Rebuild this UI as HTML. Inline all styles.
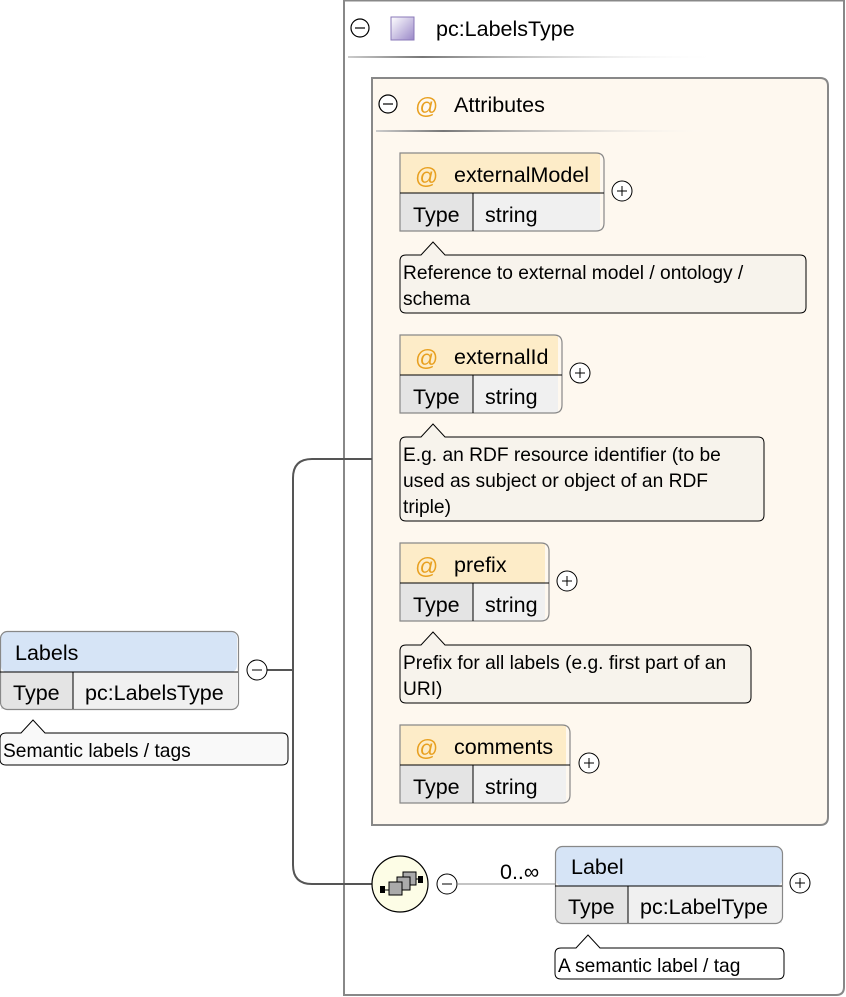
<!DOCTYPE html>
<html><head><meta charset="utf-8"><style>
html,body{margin:0;padding:0;background:#fff;}
svg{display:block;font-family:"Liberation Sans",Arial,sans-serif;}
.t{font-size:21.5px;fill:#000;}
.d{font-size:19.2px;fill:#000;}
.at{font-size:23px;fill:#e8a020;}
</style></head><body>
<svg width="846" height="997" viewBox="0 0 846 997" xmlns="http://www.w3.org/2000/svg">
<defs>
<linearGradient id="sep" x1="0" x2="1" y1="0" y2="0">
<stop offset="0" stop-color="#ccc"/><stop offset="0.2" stop-color="#777"/><stop offset="1" stop-color="#fff" stop-opacity="0"/>
</linearGradient>
<linearGradient id="pur" x1="0" y1="0" x2="1" y2="1">
<stop offset="0" stop-color="#fff"/><stop offset="1" stop-color="#9a88c8"/>
</linearGradient>
</defs>

<path d="M344,0.5 H844 V987 Q844,995 836,995 H344 Z" fill="#fff" stroke="#888" stroke-width="2"/>
<circle cx="360" cy="28" r="9" fill="#fff" stroke="#000" stroke-width="1.2"/>
<line x1="355" y1="28" x2="365" y2="28" stroke="#000" stroke-width="1.2"/>
<rect x="391" y="17" width="23" height="23" fill="url(#pur)" stroke="#8a78b8"/>
<text x="436" y="36" class="t">pc:LabelsType</text>
<rect x="348" y="56" width="372" height="2" fill="url(#sep)"/>

<path d="M372,78 H820 Q828,78 828,86 V817 Q828,825 820,825 H372 Z" fill="#fef8ef" stroke="#888" stroke-width="2"/>
<circle cx="388" cy="104" r="9" fill="#fff" stroke="#000" stroke-width="1.2"/>
<line x1="383" y1="104" x2="393" y2="104" stroke="#000" stroke-width="1.2"/>
<text x="415" y="114" class="at">@</text>
<text x="454" y="112" class="t">Attributes</text>
<rect x="376" y="130" width="336" height="2" fill="url(#sep)"/>

<g>
<rect x="400" y="153" width="200" height="40" fill="#fdecc8"/>
<rect x="400" y="193" width="73" height="38" fill="#e4e4e4"/>
<rect x="473" y="193" width="127" height="38" fill="#f0f0f0"/>
<path d="M400,153 H596 Q604,153 604,161 V223 Q604,231 596,231 H400 Z" fill="none" stroke="#888" stroke-width="1.2"/>
<line x1="400" y1="193" x2="604" y2="193" stroke="#000"/>
<line x1="473" y1="193" x2="473" y2="231" stroke="#000"/>
<text x="415" y="184" class="at">@</text>
<text x="454" y="182" class="t">externalModel</text>
<text x="413" y="222" class="t">Type</text>
<text x="485" y="222" class="t">string</text>
<circle cx="622" cy="191" r="10" fill="#fff" stroke="#000"/>
<path d="M617,191 H627 M622,186 V196" stroke="#000"/>
<path d="M406,255 H421 L433,242 L445,255 H800 Q806,255 806,261 V307 Q806,313 800,313 H406 Q400,313 400,307 V261 Q400,255 406,255 Z" fill="#f7f3ec" stroke="#000"/>
<text x="403" y="279" class="d">Reference to external model / ontology /</text>
<text x="403" y="305" class="d">schema</text>
</g>

<g>
<rect x="400" y="335" width="158" height="40" fill="#fdecc8"/>
<rect x="400" y="375" width="73" height="38" fill="#e4e4e4"/>
<rect x="473" y="375" width="85" height="38" fill="#f0f0f0"/>
<path d="M400,335 H554 Q562,335 562,343 V405 Q562,413 554,413 H400 Z" fill="none" stroke="#888" stroke-width="1.2"/>
<line x1="400" y1="375" x2="562" y2="375" stroke="#000"/>
<line x1="473" y1="375" x2="473" y2="413" stroke="#000"/>
<text x="415" y="366" class="at">@</text>
<text x="454" y="364" class="t">externalId</text>
<text x="413" y="404" class="t">Type</text>
<text x="485" y="404" class="t">string</text>
<circle cx="580" cy="373" r="10" fill="#fff" stroke="#000"/>
<path d="M575,373 H585 M580,368 V378" stroke="#000"/>
<path d="M406,437 H421 L433,424 L445,437 H758 Q764,437 764,443 V515 Q764,521 758,521 H406 Q400,521 400,515 V443 Q400,437 406,437 Z" fill="#f7f3ec" stroke="#000"/>
<text x="403" y="461" class="d">E.g. an RDF resource identifier (to be</text>
<text x="403" y="487" class="d">used as subject or object of an RDF</text>
<text x="403" y="513" class="d">triple)</text>
</g>

<g>
<rect x="400" y="543" width="145" height="40" fill="#fdecc8"/>
<rect x="400" y="583" width="73" height="38" fill="#e4e4e4"/>
<rect x="473" y="583" width="72" height="38" fill="#f0f0f0"/>
<path d="M400,543 H541 Q549,543 549,551 V613 Q549,621 541,621 H400 Z" fill="none" stroke="#888" stroke-width="1.2"/>
<line x1="400" y1="583" x2="549" y2="583" stroke="#000"/>
<line x1="473" y1="583" x2="473" y2="621" stroke="#000"/>
<text x="415" y="574" class="at">@</text>
<text x="454" y="572" class="t">prefix</text>
<text x="413" y="612" class="t">Type</text>
<text x="485" y="612" class="t">string</text>
<circle cx="567" cy="581" r="10" fill="#fff" stroke="#000"/>
<path d="M562,581 H572 M567,576 V586" stroke="#000"/>
<path d="M406,645 H421 L433,632 L445,645 H745 Q751,645 751,651 V697 Q751,703 745,703 H406 Q400,703 400,697 V651 Q400,645 406,645 Z" fill="#f7f3ec" stroke="#000"/>
<text x="403" y="669" class="d">Prefix for all labels (e.g. first part of an</text>
<text x="403" y="695" class="d">URI)</text>
</g>

<g>
<rect x="400" y="725" width="166" height="40" fill="#fdecc8"/>
<rect x="400" y="765" width="73" height="38" fill="#e4e4e4"/>
<rect x="473" y="765" width="93" height="38" fill="#f0f0f0"/>
<path d="M400,725 H562 Q570,725 570,733 V795 Q570,803 562,803 H400 Z" fill="none" stroke="#888" stroke-width="1.2"/>
<line x1="400" y1="765" x2="570" y2="765" stroke="#000"/>
<line x1="473" y1="765" x2="473" y2="803" stroke="#000"/>
<text x="415" y="756" class="at">@</text>
<text x="454" y="754" class="t">comments</text>
<text x="413" y="794" class="t">Type</text>
<text x="485" y="794" class="t">string</text>
<circle cx="589" cy="763" r="10" fill="#fff" stroke="#000"/>
<path d="M584,763 H594 M589,758 V768" stroke="#000"/>
</g>

<path d="M266,670 H293 M372,459 H312 Q293,459 293,478 V865 Q293,884 312,884 H372" fill="none" stroke="#555" stroke-width="2"/>

<g>
<rect x="1" y="632" width="236" height="40" rx="6" fill="#d6e4f6"/>
<rect x="1" y="672" width="72" height="37" fill="#e4e4e4"/>
<rect x="73" y="672" width="164" height="37" fill="#f0f0f0"/>
<rect x="0.5" y="631.5" width="238" height="78" rx="7" fill="none" stroke="#888" stroke-width="1.2"/>
<line x1="0" y1="672" x2="238" y2="672" stroke="#000"/>
<line x1="73" y1="672" x2="73" y2="709" stroke="#000"/>
<text x="15" y="660" class="t">Labels</text>
<text x="13" y="700" class="t">Type</text>
<text x="85" y="700" class="t">pc:LabelsType</text>
<circle cx="257" cy="670" r="10" fill="#fff" stroke="#000"/>
<line x1="252" y1="670" x2="262" y2="670" stroke="#000"/>
<path d="M6,733 H21 L33,720 L45,733 H282 Q288,733 288,739 V759 Q288,765 282,765 H6 Q0,765 0,759 V739 Q0,733 6,733 Z" fill="#f9f9f9" stroke="#000"/>
<text x="3" y="757" class="d">Semantic labels / tags</text>
</g>

<circle cx="400" cy="884" r="28" fill="#fdfde6" stroke="#000" stroke-width="1.2"/>
<rect x="380" y="886" width="5" height="7" fill="#000"/>
<rect x="418" y="876" width="5" height="7" fill="#000"/>
<line x1="384" y1="890" x2="390" y2="890" stroke="#000"/>
<line x1="410" y1="879" x2="419" y2="879" stroke="#000"/>
<rect x="403" y="872" width="13" height="13" fill="#aaa" stroke="#000"/>
<rect x="397" y="877" width="13" height="13" fill="#aaa" stroke="#000"/>
<rect x="389" y="882" width="13" height="13" fill="#aaa" stroke="#000"/>
<circle cx="447" cy="884" r="10" fill="#fff" stroke="#000"/>
<line x1="442" y1="884" x2="452" y2="884" stroke="#000"/>
<line x1="457" y1="884" x2="555" y2="884" stroke="#888"/>
<text x="500" y="879" class="t">0..∞</text>

<g>
<rect x="556" y="847" width="226" height="39" rx="6" fill="#d6e4f6"/>
<rect x="556" y="886" width="72" height="37" fill="#e4e4e4"/>
<rect x="628" y="886" width="154" height="37" fill="#f0f0f0"/>
<rect x="555.5" y="846.5" width="227" height="77" rx="7" fill="none" stroke="#888" stroke-width="1.2"/>
<line x1="555" y1="886" x2="782" y2="886" stroke="#000"/>
<line x1="628" y1="886" x2="628" y2="923" stroke="#000"/>
<text x="571" y="874" class="t">Label</text>
<text x="568" y="914" class="t">Type</text>
<text x="640" y="914" class="t">pc:LabelType</text>
<circle cx="800" cy="883" r="10" fill="#fff" stroke="#000"/>
<path d="M795,883 H805 M800,878 V888" stroke="#000"/>
<path d="M561,948 H576 L588,935 L600,948 H778 Q784,948 784,954 V973 Q784,979 778,979 H561 Q555,979 555,973 V954 Q555,948 561,948 Z" fill="#fff" stroke="#000"/>
<text x="558" y="972" class="d">A semantic label / tag</text>
</g>
</svg>
</body></html>
